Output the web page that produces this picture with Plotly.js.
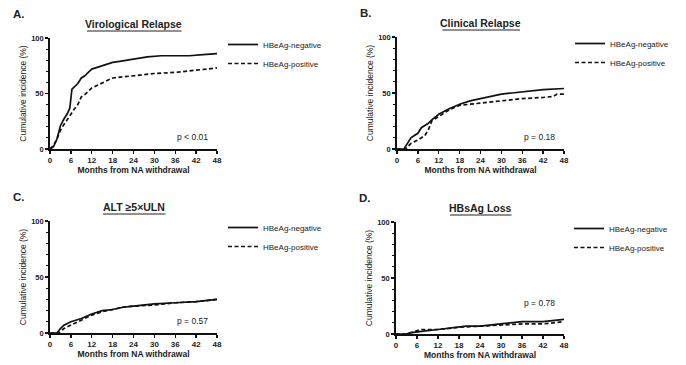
<!DOCTYPE html>
<html><head><meta charset="utf-8">
<script src="https://cdn.plot.ly/plotly-3.0.1.min.js"></script>
<style>html,body{margin:0;padding:0;background:#fff}#chart{width:686px;height:365px}</style>
</head><body><div id="chart"></div>
<script>
// ---- Data ----
const panelTitles = ["Virological Relapse", "Clinical Relapse", "ALT \u22655\u00d7ULN", "HBsAg Loss"];
const panelLetters = ["A.", "B.", "C.", "D."];
const pValues = ["p < 0.01", "p = 0.18", "p = 0.57", "p = 0.78"];
const seriesNames = ["HBeAg-negative", "HBeAg-positive"];
const xTicks = [0, 6, 12, 18, 24, 30, 36, 42, 48];

// Panel A: Virological relapse
const aNegX = [0, 1, 2, 3, 4, 5, 5.7, 6.3, 7, 8, 9, 10, 11, 12, 14, 16, 18, 20, 24, 28, 32, 36, 40, 44, 48];
const aNegY = [0, 2, 9, 21, 27, 32, 37, 54, 56, 59, 64, 66, 69, 72, 74, 76, 78, 79, 81, 83, 84, 84, 84, 85, 86];
const aPosX = [0, 1, 2, 3, 4, 5, 6, 7, 8, 9, 10, 11, 12, 14, 16, 18, 21, 24, 27, 30, 36, 42, 45, 48];
const aPosY = [0, 3, 9, 17, 22, 27, 32, 36, 40, 47, 49, 52, 55, 58, 61, 64, 65, 66, 67, 68, 69, 71, 72, 73];

// Panel B: Clinical relapse
const bNegX = [0, 2, 3, 4, 5, 6, 7, 8, 9, 10, 12, 15, 18, 21, 24, 28, 30, 33, 36, 40, 42, 48];
const bNegY = [0, 0, 5, 10, 12, 14, 19, 21, 23, 26, 31, 36, 40, 43, 45, 47, 49, 50, 51, 52, 53, 54];
const bPosX = [0, 2.5, 4, 6, 8, 9, 10, 12, 15, 18, 21, 24, 30, 36, 42, 45, 46, 48];
const bPosY = [0, 0, 5, 8, 12, 17, 25, 29, 35, 39, 40, 41, 43, 45, 46, 47, 49, 49];

// Panel C: ALT >= 5xULN
const cNegX = [0, 2, 3, 4, 6, 9, 12, 15, 18, 21, 24, 30, 36, 42, 48];
const cNegY = [0, 0, 4, 7, 10, 13, 17, 20, 21, 23, 24, 26, 27, 28, 30];
const cPosX = [0, 2.5, 4, 6, 8, 10, 12, 15, 18, 21, 24, 30, 36, 42, 48];
const cPosY = [0, 0, 4, 7, 10, 13, 16, 19, 21, 23, 24, 25, 27, 28, 30];

// Panel D: HBsAg loss
const dNegX = [0, 3, 4, 6, 9, 12, 15, 17, 20, 24, 27, 30, 33, 36, 42, 45, 48];
const dNegY = [0, 0, 1, 2, 3, 4, 5, 6, 7, 7, 8, 9, 10, 11, 11, 12, 13];
const dPosX = [0, 3, 4, 6, 7, 12, 15, 18, 24, 30, 36, 42, 45, 48];
const dPosY = [0, 0, 1, 3, 4, 4, 5, 6, 7, 8, 9, 9, 10, 11];

const panelData = [
  [aNegX, aNegY, aPosX, aPosY],
  [bNegX, bNegY, bPosX, bPosY],
  [cNegX, cNegY, cPosX, cPosY],
  [dNegX, dNegY, dPosX, dPosY]
];
const pY = [11, 11, 11, 28];

// ---- Layout geometry (paper px) ----
const W = 686, H = 365;
const boxes = [
  {x0: 50, x1: 217, y0: 38, y1: 149},
  {x0: 397, x1: 564, y0: 37, y1: 149},
  {x0: 50, x1: 217, y0: 221, y1: 333},
  {x0: 396, x1: 564, y0: 222, y1: 334}
];
// approximate rendered width of each bold title (px) for its underline
const titleWidths = [96, 79, 64, 63];
const FONT = "Liberation Sans, Arial, sans-serif";
const TITLE_SIZE = 10.5;

const traces = [];
const layout = {
  width: W, height: H, margin: {l: 0, r: 0, t: 0, b: 0},
  paper_bgcolor: "#fff", plot_bgcolor: "#fff",
  font: {family: FONT, color: "#222"},
  annotations: [], shapes: [], showlegend: true
};

panelData.forEach((d, i) => {
  const n = i === 0 ? "" : String(i + 1);
  const b = boxes[i];
  const legName = i === 0 ? "legend" : "legend" + (i + 1);
  traces.push({x: d[0], y: d[1], type: "scatter", mode: "lines", line: {shape: "linear", color: "#111", width: 1.7},
    name: seriesNames[0], xaxis: "x" + n, yaxis: "y" + n, legend: legName});
  traces.push({x: d[2], y: d[3], type: "scatter", mode: "lines", line: {shape: "linear", color: "#111", width: 1.7, dash: "4px,2.5px"},
    name: seriesNames[1], xaxis: "x" + n, yaxis: "y" + n, legend: legName});

  layout["xaxis" + n] = {
    domain: [b.x0 / W, b.x1 / W], range: [0, 48], anchor: "y" + n,
    tickvals: xTicks, ticks: "outside", ticklen: 3, tickwidth: 1.3, tickcolor: "#111",
    showline: true, linecolor: "#111", linewidth: 1.8, showgrid: false, zeroline: false,
    tickfont: {size: 8, family: FONT, weight: "bold", color: "#222"},
    title: {text: "<b>Months from NA withdrawal</b>", font: {size: 8.5, family: FONT, color: "#222"}, standoff: 1}
  };
  layout["yaxis" + n] = {
    domain: [1 - b.y1 / H, 1 - b.y0 / H], range: [0, 100], anchor: "x" + n,
    tickvals: [0, 50, 100], ticks: "outside", ticklen: 3, tickwidth: 1.3, tickcolor: "#111",
    minor: {dtick: 10, ticks: "outside", ticklen: 2, tickwidth: 1, tickcolor: "#111"},
    showline: true, linecolor: "#111", linewidth: 1.8, showgrid: false, zeroline: false,
    tickfont: {size: 7.5, family: FONT, weight: "bold", color: "#222"},
    title: {text: "Cumulative incidence (%)", font: {size: 8.5, family: FONT, color: "#222"}, standoff: 3}
  };
  layout[legName] = {
    x: (b.x0 + 173) / W, y: 1 - (b.y0 - 8) / H, xanchor: "left", yanchor: "top",
    bgcolor: "rgba(0,0,0,0)", font: {size: 8, family: FONT, color: "#222"},
    tracegroupgap: 0, itemwidth: 30
  };
  // panel letter
  layout.annotations.push({xref: "paper", yref: "paper", x: (b.x0 - 39) / W, y: 1 - (b.y0 - 24) / H,
    xanchor: "left", yanchor: "middle", showarrow: false, text: "<b>" + panelLetters[i] + "</b>",
    font: {size: 11.5, family: FONT, color: "#222"}});
  // panel title
  const cx = (b.x0 + b.x1) / 2, cy = b.y0 - 14;
  layout.annotations.push({xref: "paper", yref: "paper", x: cx / W, y: 1 - cy / H,
    xanchor: "center", yanchor: "middle", showarrow: false,
    text: "<b>" + panelTitles[i] + "</b>",
    font: {size: TITLE_SIZE, family: FONT, color: "#222"}});
  // underline under the title, drawn as a headless annotation arrow
  const tw = titleWidths[i];
  const uy = cy + 7;
  layout.annotations.push({xref: "paper", yref: "paper", x: (cx + tw / 2) / W, y: 1 - uy / H,
    axref: "pixel", ayref: "pixel", ax: -tw, ay: 0, text: "", showarrow: true,
    arrowhead: 0, arrowwidth: 1.2, arrowcolor: "#222", standoff: 0, startstandoff: 0});
  // p value
  layout.annotations.push({xref: "x" + n, yref: "y" + n, x: 46, y: pY[i],
    xanchor: "right", yanchor: "middle", showarrow: false, text: pValues[i],
    font: {size: 8.5, family: FONT, color: "#222"}});
});

Plotly.newPlot("chart", traces, layout, {displayModeBar: false, staticPlot: true});
</script>
</body></html>
